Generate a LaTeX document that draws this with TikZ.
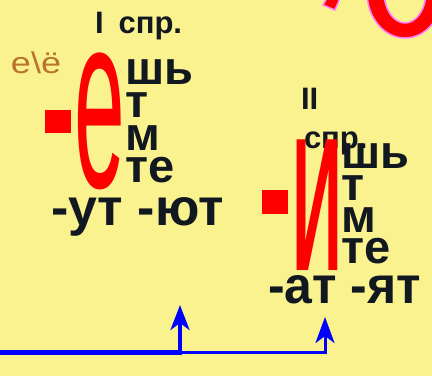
\documentclass[tikz,border=0pt]{standalone}
\usepackage{fontspec}
\setmainfont{Liberation Sans}
\usepackage{graphicx}
\usetikzlibrary{arrows.meta}
\definecolor{bg}{RGB}{249,242,143}
\definecolor{ink}{RGB}{17,24,32}
\definecolor{brownish}{RGB}{185,115,45}
\definecolor{pinkline}{RGB}{255,128,255}
\definecolor{arrowblue}{RGB}{0,0,255}
\tikzset{
  txt/.style={anchor=base west, inner sep=0pt, outer sep=0pt, text=ink},
  small/.style={txt, font=\bfseries\fontsize{31}{31}\selectfont},
  mid/.style={txt, font=\bfseries\fontsize{47}{47}\selectfont},
  big/.style={txt, font=\bfseries\fontsize{52}{52}\selectfont},
  hint/.style={anchor=base west, inner sep=0pt, outer sep=0pt, text=brownish, font=\fontsize{30}{30}\selectfont},
  redbig/.style={anchor=base west, inner sep=0pt, outer sep=0pt, text=red},
  bluethick/.style={draw=arrowblue, line width=5pt},
  bluearrow/.style={draw=arrowblue, line width=3.5pt, -{Stealth[length=25pt, width=19pt, inset=7pt]}},
  bluethin/.style={draw=arrowblue, line width=3pt, -{Stealth[length=26pt, width=19pt, inset=7pt]}},
}
\begin{document}
\begin{tikzpicture}[x=1pt, y=-1pt]
\useasboundingbox (0,0) rectangle (432,376);
\fill[bg] (0,0) rectangle (432,376);
\clip (0,0) rectangle (432,376);

% top-right decoration
\fill[red, draw=pinkline, line width=1.5pt, even odd rule]
  (405,-8) ellipse [x radius=38, y radius=46]
  (405,-8) ellipse [x radius=21, y radius=31];
\fill[red, draw=pinkline, line width=1.5pt] (327,-2) -- (340,-2) -- (335,10) -- (323,5) -- cycle;

% first conjugation
\node[small] (c1) at (95,33) {I\hspace{15pt}спр.};
\node[hint] (hint) at (11,73) {\scalebox{1.2}[1]{е\textbackslash ё}};
\fill[red] (45,110) rectangle (71,133);
\node[redbig] (e1) at (74.7,187) {\scalebox{1.518}[4.17]{\fontsize{60}{60}\selectfont е}};
\node[mid] (s1a) at (125,84) {шь};
\node[mid] (s1b) at (125,117) {т};
\node[mid] (s1c) at (125,150) {м};
\node[mid] (s1d) at (125,182) {те};
\node[big] (end1) at (51,225) {-ут -ют};

% second conjugation
\node[small] (c2a) at (301,109) {II};
\node[small] (c2b) at (304,148) {спр.};
\fill[red] (262,190) rectangle (288,214);
\node[redbig] (i2) at (292.9,270) {\scalebox{1.157}[3.166]{\bfseries\fontsize{60}{60}\selectfont И}};
\node[mid] (s2a) at (341,168) {шь};
\node[mid] (s2b) at (341,200) {т};
\node[mid] (s2c) at (341,232) {м};
\node[mid] (s2d) at (341,263) {те};
\node[big] (end2) at (268,303) {\scalebox{0.96}[1]{-ат -ят}};

% arrows
\coordinate (start) at (0,352.5);
\coordinate (j1) at (180,352.5);
\coordinate (t1) at (180,305);
\coordinate (j2) at (325,352.5);
\coordinate (t2) at (325,317);
\draw[bluethick] (start) -- (j1);
\draw[bluearrow] ([yshift=-2pt]j1) -- (t1);
\draw[bluethin] (j1) -- (j2) -- (t2);
\end{tikzpicture}
\end{document}
